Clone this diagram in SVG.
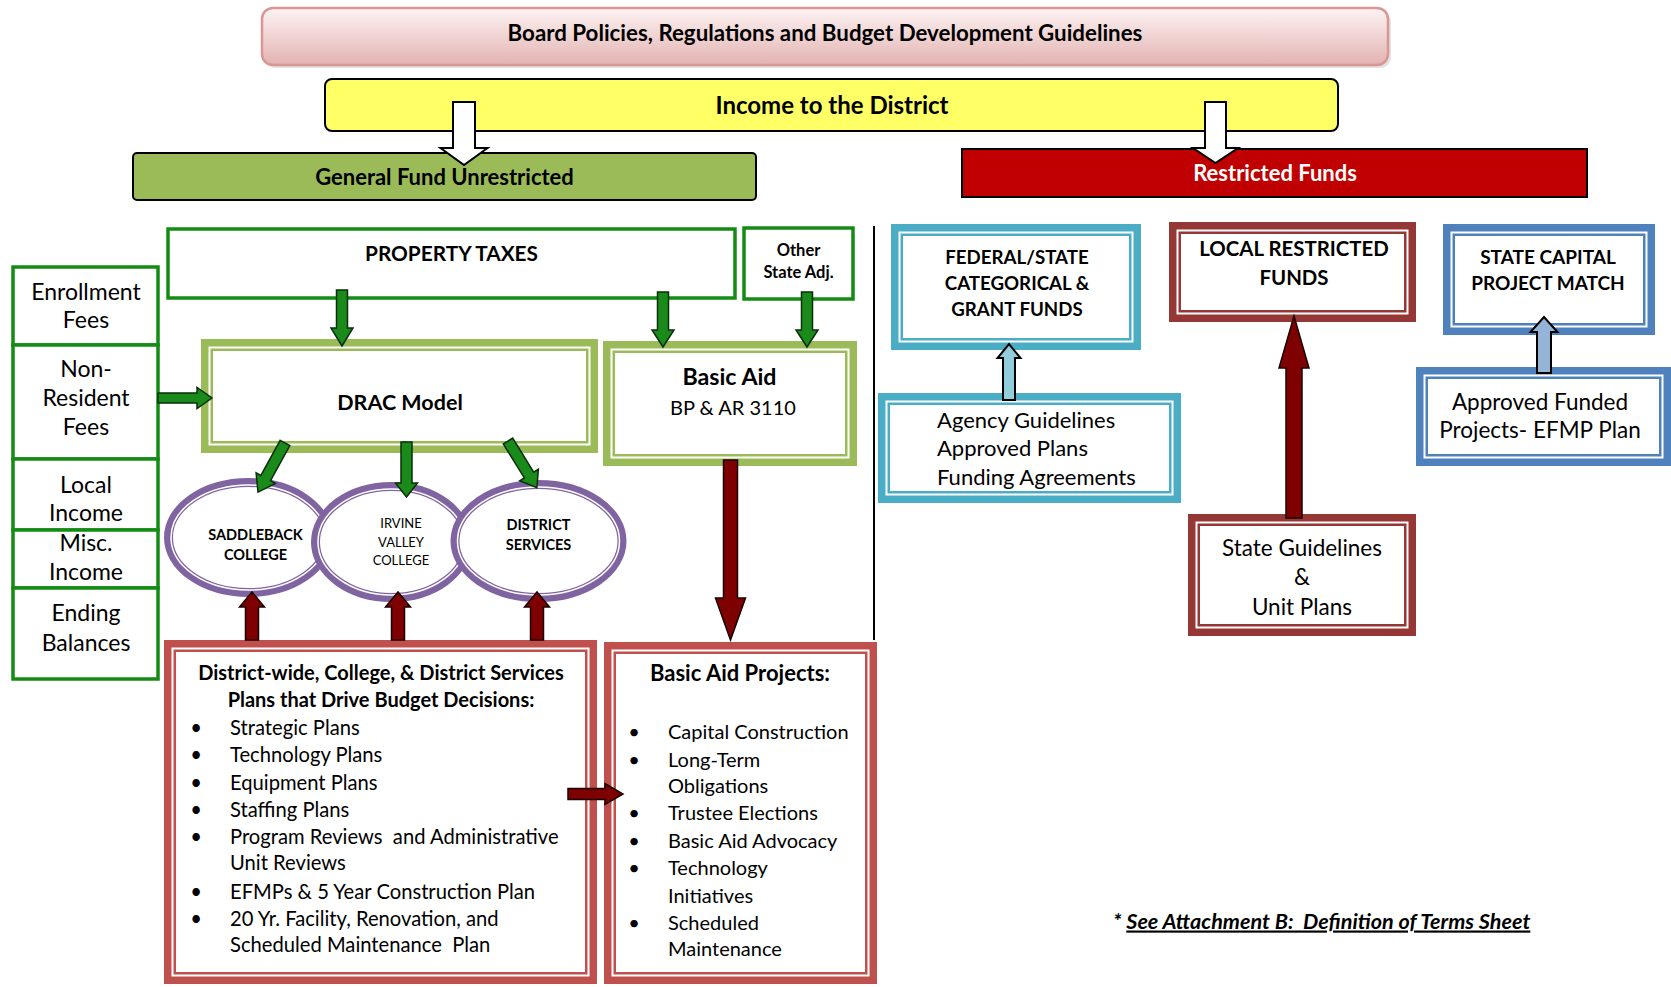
<svg xmlns="http://www.w3.org/2000/svg" width="1671" height="987" viewBox="0 0 1671 987">
<defs>
<linearGradient id="pinkGrad" x1="0" y1="0" x2="0" y2="1">
<stop offset="0" stop-color="#FDF3F3"/>
<stop offset="1" stop-color="#E3B3B2"/>
</linearGradient>
<style>
.t{font-family:Lato,'Liberation Sans',sans-serif;fill:#000}
.b{font-weight:bold}
.c{text-anchor:middle}
.pre{white-space:pre}
.band{fill:#fff;stroke-width:12}
.gap{fill:none;stroke:#fff;stroke-width:2}
.eband{fill:#fff;stroke-width:9;stroke:#8064A2}
.egap{fill:none;stroke:#fff;stroke-width:1.5}
.g2{stroke:#9BBB59}
.r2{stroke:#C0504D}
.dr2{stroke:#953735}
.tl2{stroke:#4BACC6}
.bl2{stroke:#4F81BD}
.gbox{fill:#fff;stroke:#148C14;stroke-width:3.5}
.ga{fill:#1A8A1A;stroke:#0B2E0B;stroke-width:1.5;stroke-linejoin:miter}
.ra{fill:#7F0000;stroke:#1a0000;stroke-width:1.5}
.wa{fill:#fff;stroke:#000;stroke-width:2}
.la{fill:#92CDDC;stroke:#000;stroke-width:2}
.lb{fill:#95B3D7;stroke:#000;stroke-width:2}
</style>
</defs>
<rect x="0" y="0" width="1671" height="987" fill="#fff"/>

<g id="board">
<rect x="265" y="11" width="1126" height="57" rx="11" fill="#cfcfcf" opacity="0.6"/>
<rect x="262" y="8" width="1126" height="57" rx="11" fill="url(#pinkGrad)" stroke="#D99694" stroke-width="2.5"/>
<text class="t b c" x="825" y="40.5" font-size="22.3">Board Policies, Regulations and Budget Development Guidelines</text>
</g>

<g id="income">
<rect x="325" y="79" width="1013" height="52" rx="7" fill="#FFFF66" stroke="#000" stroke-width="2"/>
<text class="t b c" x="832" y="114" font-size="24">Income to the District</text>
</g>

<g id="general-fund">
<rect x="133" y="153" width="623" height="47" rx="4" fill="#9BBB59" stroke="#000" stroke-width="2"/>
<text class="t b c" x="444.5" y="185" font-size="22">General Fund Unrestricted</text>
</g>

<g id="restricted-funds">
<rect x="962" y="149" width="625" height="48" fill="#C00000" stroke="#000" stroke-width="2"/>
<text class="t b c" x="1275" y="181" font-size="22" style="fill:#fff">Restricted Funds</text>
</g>

<g id="divider">
<line x1="874" y1="226" x2="874" y2="640" stroke="#000" stroke-width="2"/>
</g>

<g id="enrollment-fees">
<rect class="gbox" x="13" y="267" width="145" height="78"/>
<text class="t c" x="86" y="300" font-size="23">Enrollment</text>
<text class="t c" x="86" y="328" font-size="23">Fees</text>
</g>
<g id="non-resident-fees">
<rect class="gbox" x="13" y="345" width="145" height="114"/>
<text class="t c" x="86" y="377" font-size="23">Non-</text>
<text class="t c" x="86" y="406" font-size="23">Resident</text>
<text class="t c" x="86" y="435" font-size="23">Fees</text>
</g>
<g id="local-income">
<rect class="gbox" x="13" y="459" width="145" height="71"/>
<text class="t c" x="86" y="493" font-size="23">Local</text>
<text class="t c" x="86" y="521" font-size="23">Income</text>
</g>
<g id="misc-income">
<rect class="gbox" x="13" y="530" width="145" height="58"/>
<text class="t c" x="86" y="551" font-size="23">Misc.</text>
<text class="t c" x="86" y="580" font-size="23">Income</text>
</g>
<g id="ending-balances">
<rect class="gbox" x="13" y="588" width="145" height="91"/>
<text class="t c" x="86" y="621" font-size="23">Ending</text>
<text class="t c" x="86" y="651" font-size="23">Balances</text>
</g>

<g id="property-taxes">
<rect class="gbox" x="168" y="229" width="567" height="69"/>
<text class="t b c" x="451.5" y="260.5" font-size="20.8">PROPERTY TAXES</text>
</g>

<g id="other-state-adj">
<rect class="gbox" x="744" y="228" width="109" height="71"/>
<text class="t b c" x="798.5" y="256" font-size="16.5">Other</text>
<text class="t b c" x="798.5" y="278" font-size="16.5">State Adj.</text>
</g>

<g id="drac-model">
<rect class="band g2" x="207" y="345" width="385" height="102"/>
<rect class="gap" x="209.5" y="347.5" width="380" height="97"/>
<text class="t b c" x="400" y="409.5" font-size="21.5">DRAC Model</text>
</g>

<g id="basic-aid">
<rect class="band g2" x="609" y="347" width="242" height="113"/>
<rect class="gap" x="611.5" y="349.5" width="237" height="108"/>
<text class="t b c" x="729.5" y="385" font-size="23.2">Basic Aid</text>
<text class="t c" x="733" y="415" font-size="20">BP &amp; AR 3110</text>
</g>

<g id="saddleback-college">
<ellipse class="eband" cx="248.5" cy="537.5" rx="80" ry="55"/>
<ellipse class="egap" cx="248.5" cy="537.5" rx="77.5" ry="52.5"/>
<text class="t b c" x="255.5" y="540" font-size="14.5">SADDLEBACK</text>
<text class="t b c" x="255.5" y="560" font-size="14.5">COLLEGE</text>
</g>

<g id="irvine-valley-college">
<ellipse class="eband" cx="391.5" cy="542" rx="76" ry="55.5"/>
<ellipse class="egap" cx="391.5" cy="542" rx="73.5" ry="53"/>
<text class="t c" x="401" y="528" font-size="13">IRVINE</text>
<text class="t c" x="401" y="547" font-size="13">VALLEY</text>
<text class="t c" x="401" y="565" font-size="13">COLLEGE</text>
</g>

<g id="district-services">
<ellipse class="eband" cx="538.5" cy="541" rx="83.5" ry="56.5"/>
<ellipse class="egap" cx="538.5" cy="541" rx="81" ry="54"/>
<text class="t b c" x="538.5" y="530" font-size="14.5">DISTRICT</text>
<text class="t b c" x="538.5" y="550" font-size="14.5">SERVICES</text>
</g>

<g id="plans">
<rect class="band r2" x="170" y="646" width="421" height="332"/>
<rect class="gap" x="172.5" y="648.5" width="416" height="327"/>
<text class="t b c" x="381" y="680" font-size="20">District-wide, College, &amp; District Services</text>
<text class="t b c" x="381" y="707" font-size="20">Plans that Drive Budget Decisions:</text>
<g class="t" font-size="20.2">
<text x="196" y="735" class="c">•</text><text x="230" y="735">Strategic Plans</text>
<text x="196" y="762" class="c">•</text><text x="230" y="762">Technology Plans</text>
<text x="196" y="790" class="c">•</text><text x="230" y="790">Equipment Plans</text>
<text x="196" y="817" class="c">•</text><text x="230" y="817">Staffing Plans</text>
<text x="196" y="844" class="c">•</text><text x="230" y="844" class="pre">Program Reviews  and Administrative</text>
<text x="230" y="870">Unit Reviews</text>
<text x="196" y="899" class="c">•</text><text x="230" y="899">EFMPs &amp; 5 Year Construction Plan</text>
<text x="196" y="926" class="c">•</text><text x="230" y="926">20 Yr. Facility, Renovation, and</text>
<text x="230" y="952" class="pre">Scheduled Maintenance  Plan</text>
</g>
</g>

<g id="basic-aid-projects">
<rect class="band r2" x="610" y="648" width="261" height="330"/>
<rect class="gap" x="612.5" y="650.5" width="256" height="325"/>
<text class="t b c" x="740" y="680.5" font-size="22">Basic Aid Projects:</text>
<g class="t" font-size="20">
<text x="634" y="739" class="c">•</text><text x="668" y="739">Capital Construction</text>
<text x="634" y="767" class="c">•</text><text x="668" y="767">Long-Term</text>
<text x="668" y="793">Obligations</text>
<text x="634" y="820" class="c">•</text><text x="668" y="820">Trustee Elections</text>
<text x="634" y="848" class="c">•</text><text x="668" y="848">Basic Aid Advocacy</text>
<text x="634" y="875" class="c">•</text><text x="668" y="875">Technology</text>
<text x="668" y="903">Initiatives</text>
<text x="634" y="930" class="c">•</text><text x="668" y="930">Scheduled</text>
<text x="668" y="956">Maintenance</text>
</g>
</g>

<g id="federal-state">
<rect class="band tl2" x="897" y="230" width="238" height="114"/>
<rect class="gap" x="899.5" y="232.5" width="233" height="109"/>
<text class="t b c" x="1017" y="264" font-size="18.7">FEDERAL/STATE</text>
<text class="t b c" x="1017" y="290" font-size="18.7">CATEGORICAL &amp;</text>
<text class="t b c" x="1017" y="316" font-size="18.7">GRANT FUNDS</text>
</g>

<g id="agency-guidelines">
<rect class="band tl2" x="884" y="399" width="291" height="98"/>
<rect class="gap" x="886.5" y="401.5" width="286" height="93"/>
<text class="t" x="937" y="428" font-size="22">Agency Guidelines</text>
<text class="t" x="937" y="456" font-size="22">Approved Plans</text>
<text class="t" x="937" y="485" font-size="22">Funding Agreements</text>
</g>

<g id="local-restricted-funds">
<rect class="band dr2" x="1175" y="228" width="235" height="88"/>
<rect class="gap" x="1177.5" y="230.5" width="230" height="83"/>
<text class="t b c" x="1294" y="255.5" font-size="20.4">LOCAL RESTRICTED</text>
<text class="t b c" x="1294" y="284.5" font-size="20.4">FUNDS</text>
</g>

<g id="state-guidelines">
<rect class="band dr2" x="1194" y="520" width="216" height="110"/>
<rect class="gap" x="1196.5" y="522.5" width="211" height="105"/>
<text class="t c" x="1302" y="555.5" font-size="22.5">State Guidelines</text>
<text class="t c" x="1302" y="585" font-size="22.5">&amp;</text>
<text class="t c" x="1302" y="614.5" font-size="22.5">Unit Plans</text>
</g>

<g id="state-capital">
<rect class="band bl2" x="1449" y="230" width="200" height="99"/>
<rect class="gap" x="1451.5" y="232.5" width="195" height="94"/>
<text class="t b c" x="1548" y="264" font-size="19">STATE CAPITAL</text>
<text class="t b c" x="1548" y="290" font-size="19">PROJECT MATCH</text>
</g>

<g id="approved-funded">
<rect class="band bl2" x="1422" y="373" width="243" height="87"/>
<rect class="gap" x="1424.5" y="375.5" width="238" height="82"/>
<text class="t c" x="1540" y="409.5" font-size="22.5">Approved Funded</text>
<text class="t c" x="1540" y="437.5" font-size="22.5">Projects- EFMP Plan</text>
</g>

<g id="footnote">
<text class="t b pre" x="1113" y="928.5" font-size="21.6" font-style="italic">* <tspan text-decoration="underline">See Attachment B:  Definition of Terms Sheet</tspan></text>
</g>

<g id="connectors">
<path class="wa" d="M453,102 L475,102 L475,148 L487.5,148 L464,165 L440.5,148 L453,148 Z"/>
<path class="wa" d="M1205,102 L1226,102 L1226,148 L1238,148 L1215.5,163 L1193,148 L1205,148 Z"/>
<path class="ga" d="M336.5,290 L347.5,290 L347.5,328 L353,328 L342,346 L331,328 L336.5,328 Z"/>
<path class="ga" d="M657.5,292 L668.5,292 L668.5,330 L674,330 L663,347 L652,330 L657.5,330 Z"/>
<path class="ga" d="M801.5,292 L812.5,292 L812.5,330 L818,330 L807,347 L796,330 L801.5,330 Z"/>
<path class="ga" d="M158,393 L197,393 L197,387.5 L212,398 L197,408.5 L197,403 L158,403 Z"/>
<path class="ga" transform="translate(285,443) rotate(28.8)" d="M-5.5,0 L5.5,0 L5.5,40 L11,40 L0,56 L-11,40 L-5.5,40 Z"/>
<path class="ga" d="M401,442 L412,442 L412,483 L417.5,483 L406.5,497 L395.5,483 L401,483 Z"/>
<path class="ga" transform="translate(508,441) rotate(-31.7)" d="M-5.5,0 L5.5,0 L5.5,40 L11,40 L0,55 L-11,40 L-5.5,40 Z"/>
<path class="ra" d="M245.5,640 L258.5,640 L258.5,607 L264.5,607 L252,592 L239.5,607 L245.5,607 Z"/>
<path class="ra" d="M391.5,640 L404.5,640 L404.5,607 L410.5,607 L398,592 L385.5,607 L391.5,607 Z"/>
<path class="ra" d="M530.5,640 L543.5,640 L543.5,607 L549.5,607 L537,592 L524.5,607 L530.5,607 Z"/>
<path class="ra" d="M723.5,460 L737.5,460 L737.5,598 L745.5,598 L730.5,640 L715.5,598 L723.5,598 Z"/>
<path class="ra" d="M568,788.5 L605,788.5 L605,783.5 L623,794 L605,804.5 L605,799.5 L568,799.5 Z"/>
<path class="ra" d="M1286,518 L1302,518 L1302,368 L1309,368 L1294,316 L1279,368 L1286,368 Z"/>
<path class="la" d="M1003,400 L1015,400 L1015,358 L1020.5,358 L1009,344 L997.5,358 L1003,358 Z"/>
<path class="lb" d="M1537,373 L1551,373 L1551,332 L1557.5,332 L1544,317 L1530.5,332 L1537,332 Z"/>
</g>
</svg>
